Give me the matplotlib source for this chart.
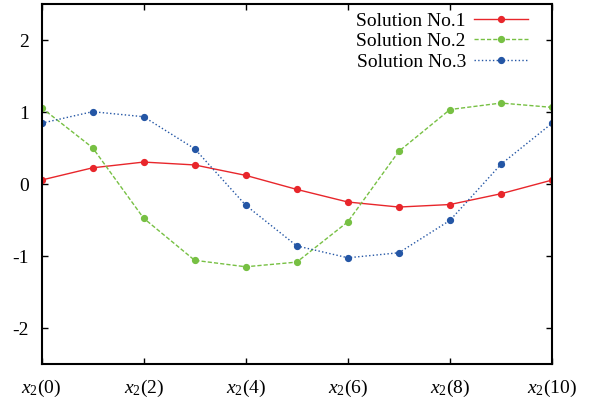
import numpy as np
import matplotlib
matplotlib.use('Agg')
import matplotlib.pyplot as plt

plt.rcParams['font.family'] = ['Liberation Serif', 'DejaVu Serif']
plt.rcParams['mathtext.fontset'] = 'custom'
plt.rcParams['mathtext.rm'] = 'Liberation Serif'
plt.rcParams['mathtext.it'] = 'Liberation Serif:italic'

x = np.arange(11)
sol1 = [0.06, 0.23, 0.31, 0.27, 0.125, -0.07, -0.245, -0.315, -0.28, -0.13, 0.06]
sol2 = [1.065, 0.51, -0.47, -1.055, -1.145, -1.08, -0.52, 0.46, 1.04, 1.13, 1.07]
sol3 = [0.85, 1.01, 0.94, 0.495, -0.29, -0.855, -1.02, -0.95, -0.5, 0.28, 0.85]
labels = ['Solution No.1', 'Solution No.2', 'Solution No.3']
xticks = [0, 2, 4, 6, 8, 10]
xticklabels = [r'$x_2\mathrm{(%d)}$' % t for t in xticks]
yticks = [-2, -1, 0, 1, 2]
yticklabels = ['-2', '-1', '0', '1', '2']

fig = plt.figure(figsize=(5.93, 4.05), dpi=100)
ax = fig.add_axes([0.07, 0.1005, 0.861, 0.8885])

ax.plot(x, sol1, '-', color='#e8262b', lw=1.0, marker='o', ms=4.2, label=labels[0])
ax.plot(x, sol2, '--', color='#77c043', lw=1.0, marker='o', ms=4.2, dashes=(3, 1.5), label=labels[1])
ax.plot(x, sol3, ':', color='#2456a5', lw=1.0, marker='o', ms=4.2, label=labels[2])

ax.set_xlim(0, 10)
ax.set_ylim(-2.5, 2.5)
ax.set_xticks(xticks)
ax.set_xticklabels(xticklabels)
ax.set_yticks(yticks)
ax.set_yticklabels(yticklabels)
ax.tick_params(direction='in', length=4, width=1, top=True, right=True, labelsize=14)
ax.tick_params(axis='x', pad=10)
ax.tick_params(axis='y', pad=9)
for s in ax.spines.values():
    s.set_linewidth(1.5)

ax.legend(loc='upper right', frameon=False, markerfirst=False, fontsize=14,
          handlelength=2.8, labelspacing=0.15, handletextpad=0.4,
          borderaxespad=0.2, bbox_to_anchor=(0.976, 1.011))

fig.savefig('out.png', dpi=100)
